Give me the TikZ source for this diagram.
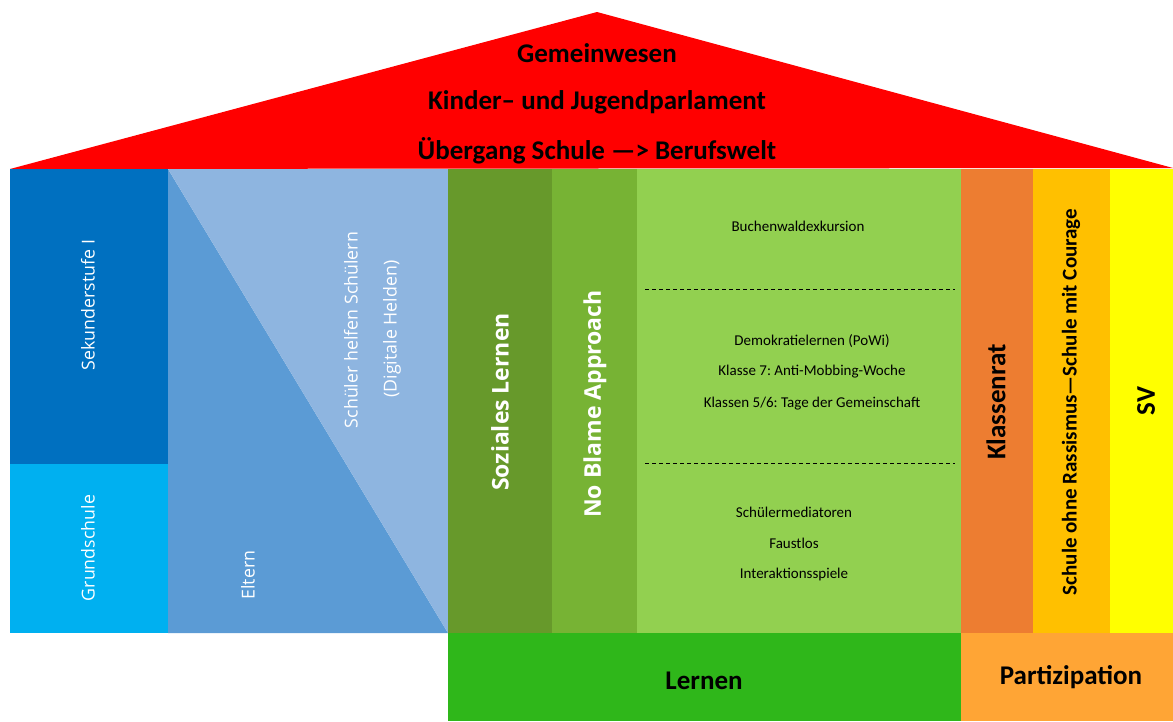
\documentclass[tikz,border=0pt]{standalone}
\usepackage{fontspec}
\setmainfont{Carlito}
\newfontfamily\opensans{Open Sans}
\definecolor{roofred}{HTML}{FF0000}
\definecolor{sekblue}{HTML}{0070C0}
\definecolor{grundblue}{HTML}{00B0F0}
\definecolor{elternblue}{HTML}{5B9BD5}
\definecolor{helferblue}{HTML}{8EB5E0}
\definecolor{sozgreen}{HTML}{67992B}
\definecolor{blamegreen}{HTML}{77B334}
\definecolor{listgreen}{HTML}{92D050}
\definecolor{klassorange}{HTML}{ED7D31}
\definecolor{courageamber}{HTML}{FFC000}
\definecolor{svyellow}{HTML}{FFFF00}
\definecolor{lerngreen}{HTML}{2FB71A}
\definecolor{partorange}{HTML}{FFA535}
\frenchspacing
\tikzset{
  rooftext/.style={font=\fontsize{27}{32}\selectfont\bfseries, text=black},
  whitelabel/.style={font=\opensans\fontsize{17.8}{21}\selectfont, text=white, rotate=90},
  pillarlabel/.style={font=\opensans\fontsize{23}{28}\selectfont\bfseries, text=white, rotate=90},
  listtext/.style={font=\fontsize{15}{18}\selectfont, text=black},
  partlabel/.style={text=black, rotate=90},
  basetext/.style={font=\fontsize{27}{32}\selectfont\bfseries, text=black},
  divider/.style={black, line width=0.7pt, dash pattern=on 4pt off 3pt}
}
\begin{document}
\begin{tikzpicture}[x=1pt,y=-1pt]
\useasboundingbox (0,0) rectangle (1173,721);
% roof
\fill[roofred] (10,169) -- (597,12) -- (1173,168) -- cycle;
% left block: school levels
\fill[sekblue] (10,169) rectangle (168,464);
\fill[grundblue] (10,464) rectangle (168,633);
% parents / students triangle split
\fill[elternblue] (168,169) -- (168,633) -- (448,633) -- cycle;
\fill[helferblue] (168,169) -- (448,169) -- (448,633) -- cycle;
% learning pillars
\fill[sozgreen] (448,169) rectangle (552,633);
\fill[blamegreen] (552,169) rectangle (637,633);
\fill[listgreen] (637,169) rectangle (961,633);
% participation pillars
\fill[klassorange] (961,169) rectangle (1033,633);
\fill[courageamber] (1033,169) rectangle (1110,633);
\fill[svyellow] (1110,169) rectangle (1173,633);
% foundation
\fill[lerngreen] (448,633) rectangle (961,721);
\fill[partorange] (961,633) rectangle (1173,721);

% roof texts
\node[rooftext] (gemeinwesen) at (597,53) {Gemeinwesen};
\node[rooftext] (parlament) at (597,102) {Kinder-- und Jugendparlament};
\node[rooftext] (uebergang) at (597,151) {Übergang Schule —> Berufswelt};

% left block texts
\node[whitelabel] (sek) at (88,305) {Sekunderstufe I};
\node[whitelabel] (grund) at (88,548) {Grundschule};
\node[whitelabel] (eltern) at (248,575) {Eltern};
\node[whitelabel] (helfen) at (351,330) {Schüler helfen Schülern};
\node[whitelabel] (helden) at (392,329) {(Digitale Helden)};

% pillar texts
\node[pillarlabel] (sozial) at (500,402) {Soziales Lernen};
\node[pillarlabel] (blame) at (595,404) {No Blame Approach};

% program list
\node[listtext] (buchenwald) at (798,226) {Buchenwaldexkursion};
\coordinate (d1a) at (645,289);
\coordinate (d1b) at (955,289);
\draw[divider] (d1a) -- (d1b);
\node[listtext] (demokratie) at (812,341) {Demokratielernen (PoWi)};
\node[listtext] (mobbing) at (812,372) {Klasse 7: Anti-Mobbing-Woche};
\node[listtext] (gemeinschaft) at (812,404) {Klassen 5/6: Tage der Gemeinschaft};
\coordinate (d2a) at (645,463);
\coordinate (d2b) at (955,463);
\draw[divider] (d2a) -- (d2b);
\node[listtext] (mediatoren) at (794,512) {Schülermediatoren};
\node[listtext] (faustlos) at (794,543) {Faustlos};
\node[listtext] (spiele) at (794,574) {Interaktionsspiele};

% participation texts
\node[partlabel, font=\fontsize{27}{32}\selectfont\bfseries] (klassenrat) at (996,402) {Klassenrat};
\node[partlabel, font=\fontsize{21}{25}\selectfont\bfseries] (courage) at (1071,402) {Schule ohne Rassismus—Schule mit Courage};
\node[partlabel, font=\fontsize{27}{32}\selectfont\bfseries] (sv) at (1146,401) {SV};

% foundation texts
\node[basetext] (lernen) at (704,681) {Lernen};
\node[basetext] (partizipation) at (1071,677) {Partizipation};
\end{tikzpicture}
\end{document}
